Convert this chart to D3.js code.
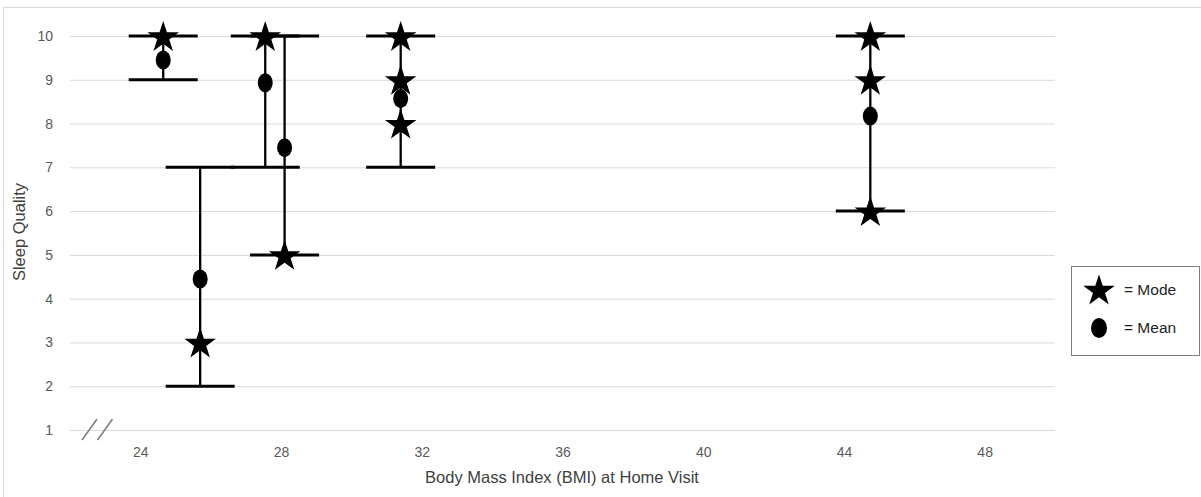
<!DOCTYPE html>
<html>
<head>
<meta charset="utf-8">
<script src="https://cdn.jsdelivr.net/npm/d3@7"></script>
<style>
	body { margin: 0; background: #fff; }
	svg { display: block; font-family: "Liberation Sans", Arial, sans-serif; }
</style>
</head>
<body>
<svg id="graph"></svg>
<script>
var width = 1201;
var height = 497;

// one entry per participant group
var bmiValues  = [24.65, 25.7, 27.55, 28.1, 31.4, 44.75];
var minValues  = [9, 2, 7, 5, 7, 6];
var maxValues  = [10, 7, 10, 10, 10, 10];
var meanValues = [9.45, 4.45, 8.93, 7.45, 8.57, 8.17];
var modeValues = [[10], [3], [10], [5], [10, 9, 8], [10, 9, 6]];

var xTicks = [24, 28, 32, 36, 40, 44, 48];
var yTicks = [1, 2, 3, 4, 5, 6, 7, 8, 9, 10];

var svg = d3.select("#graph")
	.attr("width", width)
	.attr("height", height);

var x = d3.scaleLinear().domain([22, 50]).range([70, 1055]);
var y = d3.scaleLinear().domain([1, 10]).range([430, 36]);

// chart border
svg.append("rect")
	.attr("x", 3.5).attr("y", 7.5)
	.attr("width", 1200).attr("height", 500)
	.attr("fill", "none")
	.attr("stroke", "#d9d9d9");

// gridlines + y labels
var yAxis = svg.append("g")
	.attr("transform", "translate(70,0)")
	.call(d3.axisLeft(y).tickValues(yTicks).tickSize(-(1055 - 70)).tickPadding(17));
yAxis.select(".domain").remove();
yAxis.selectAll("line").attr("stroke", "#d9d9d9");
yAxis.selectAll("text")
	.attr("fill", "#595959")
	.attr("font-size", "14px");

// x labels only, no axis line
var xAxis = svg.append("g")
	.attr("transform", "translate(0,430)")
	.call(d3.axisBottom(x).tickValues(xTicks).tickSize(0).tickPadding(17));
xAxis.select(".domain").remove();
xAxis.selectAll("text")
	.attr("fill", "#595959")
	.attr("font-size", "14px");

// axis break mark
svg.append("g").selectAll("line")
	.data([0, 1])
	.enter()
	.append("line")
	.attr("x1", (d, i) => 82 + i * 15.5)
	.attr("y1", 440)
	.attr("x2", (d, i) => 97 + i * 15.5)
	.attr("y2", 419)
	.attr("stroke", "#7f7f7f")
	.attr("stroke-width", 1.6);

// axis titles
svg.append("text")
	.attr("x", 562)
	.attr("y", 483)
	.attr("text-anchor", "middle")
	.attr("font-size", "16.5px")
	.attr("fill", "#404040")
	.text("Body Mass Index (BMI) at Home Visit");

svg.append("text")
	.attr("transform", "translate(25,232) rotate(-90)")
	.attr("text-anchor", "middle")
	.attr("font-size", "16.5px")
	.attr("fill", "#404040")
	.text("Sleep Quality");

var capHalf = 34.5;
var idx = d3.range(bmiValues.length);

// range bars
var bars = svg.append("g");
bars.selectAll(".stem")
	.data(idx)
	.enter()
	.append("line")
	.attr("x1", i => x(bmiValues[i]))
	.attr("x2", i => x(bmiValues[i]))
	.attr("y1", i => y(minValues[i]))
	.attr("y2", i => y(maxValues[i]))
	.attr("stroke", "#000")
	.attr("stroke-width", 2.3);

var caps = [];
idx.forEach(function (i) {
	caps.push({ b: bmiValues[i], v: minValues[i] });
	caps.push({ b: bmiValues[i], v: maxValues[i] });
});
bars.selectAll(".cap")
	.data(caps)
	.enter()
	.append("line")
	.attr("x1", d => x(d.b) - capHalf)
	.attr("x2", d => x(d.b) + capHalf)
	.attr("y1", d => y(d.v))
	.attr("y2", d => y(d.v))
	.attr("stroke", "#000")
	.attr("stroke-width", 3);

// means
svg.append("g").selectAll("ellipse")
	.data(idx)
	.enter()
	.append("ellipse")
	.attr("cx", i => x(bmiValues[i]))
	.attr("cy", i => y(meanValues[i]))
	.attr("rx", 7.5)
	.attr("ry", 9.5)
	.attr("fill", "#000");

// modes
var stars = [];
idx.forEach(function (i) {
	modeValues[i].forEach(function (m) { stars.push({ b: bmiValues[i], v: m }); });
});
var star = d3.symbol().type(d3.symbolStar).size(310);
svg.append("g").selectAll("path")
	.data(stars)
	.enter()
	.append("path")
	.attr("transform", d => "translate(" + x(d.b) + "," + (y(d.v) + 1.5) + ")")
	.attr("d", star)
	.attr("fill", "#000");

// legend
var legend = svg.append("g").attr("transform", "translate(1071,266)");
legend.append("rect")
	.attr("x", 0.5).attr("y", 0.5)
	.attr("width", 128).attr("height", 89)
	.attr("fill", "#fff")
	.attr("stroke", "#7f7f7f");
legend.append("path")
	.attr("transform", "translate(28,25)")
	.attr("d", star)
	.attr("fill", "#000");
legend.append("ellipse")
	.attr("cx", 28).attr("cy", 62)
	.attr("rx", 8).attr("ry", 10)
	.attr("fill", "#000");
legend.selectAll("text")
	.data(["= Mode", "= Mean"])
	.enter()
	.append("text")
	.attr("x", 53)
	.attr("y", (d, i) => 29 + i * 38)
	.attr("font-size", "15.5px")
	.attr("fill", "#222")
	.text(d => d);
</script>
</body>
</html>
